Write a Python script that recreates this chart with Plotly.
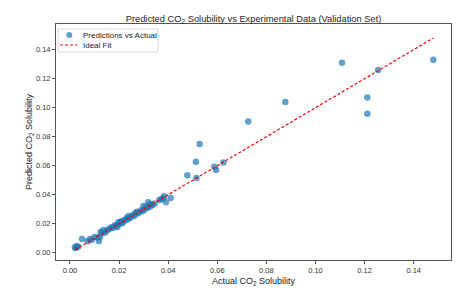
import plotly.graph_objects as go

# Actual vs predicted CO2 solubility
actual = [0.0020, 0.0024, 0.0027, 0.0033, 0.0049, 0.0072, 0.0081, 0.0088, 0.0100, 0.0112,
          0.0118, 0.0122, 0.0125, 0.0130, 0.0136, 0.0142, 0.0148, 0.0155, 0.0163, 0.0170,
          0.0176, 0.0183, 0.0188, 0.0193, 0.0197, 0.0203, 0.0207, 0.0210, 0.0214, 0.0219,
          0.0224, 0.0230, 0.0234, 0.0238, 0.0242, 0.0247, 0.0255, 0.0262, 0.0265, 0.0272,
          0.0276, 0.0283, 0.0290, 0.0296, 0.0299, 0.0305, 0.0310, 0.0315, 0.0319, 0.0322,
          0.0326, 0.0330, 0.0336, 0.0345, 0.0364, 0.0372, 0.0380, 0.0383, 0.0391, 0.0410,
          0.0478, 0.0513, 0.0515, 0.0528, 0.0588, 0.0595, 0.0625, 0.0726, 0.0877, 0.1108,
          0.1211, 0.1211, 0.1255, 0.1480]
predicted = [0.0037, 0.0032, 0.0046, 0.0041, 0.0094, 0.0080, 0.0094, 0.0088, 0.0108, 0.0105,
             0.0081, 0.0110, 0.0145, 0.0135, 0.0157, 0.0140, 0.0150, 0.0160, 0.0168, 0.0175,
             0.0172, 0.0190, 0.0185, 0.0178, 0.0210, 0.0200, 0.0215, 0.0214, 0.0205, 0.0220,
             0.0225, 0.0237, 0.0230, 0.0253, 0.0240, 0.0244, 0.0258, 0.0255, 0.0272, 0.0283,
             0.0270, 0.0280, 0.0293, 0.0288, 0.0322, 0.0300, 0.0315, 0.0310, 0.0348, 0.0325,
             0.0317, 0.0335, 0.0330, 0.0340, 0.0363, 0.0368, 0.0375, 0.0390, 0.0348, 0.0377,
             0.0534, 0.0628, 0.0515, 0.0750, 0.0593, 0.0570, 0.0623, 0.0904, 0.1040, 0.1310,
             0.1070, 0.0959, 0.1260, 0.1330]

tick_vals = [0.00, 0.02, 0.04, 0.06, 0.08, 0.10, 0.12, 0.14]
series_names = ["Predictions vs Actual", "Ideal Fit"]

line_x = [min(actual), max(actual)]
line_y = [min(actual), max(actual)]

font_family = "Liberation Sans, Arial, sans-serif"
point_color = "rgba(31,119,180,0.7)"

# plot-area geometry (px) used to place the compact legend
W, H = 472, 294
L, R, T, B = 56, 21, 24, 34
pw, ph = W - L - R, H - T - B


def px_x(p):
    return (p - L) / pw


def px_y(p):
    return (H - B - p) / ph


fig = go.Figure()
fig.add_trace(go.Scatter(
    x=actual, y=predicted, mode="markers", name=series_names[0], showlegend=False,
    marker=dict(color=point_color, size=6.5, line=dict(width=0)),
))
fig.add_trace(go.Scatter(
    x=line_x, y=line_y, mode="lines", name=series_names[1], showlegend=False,
    line=dict(color="red", width=1.2, dash="3px,2px"),
))

axis_common = dict(
    showline=True, linecolor="#555555", linewidth=1, mirror=True,
    ticks="outside", ticklen=3, tickcolor="#555555", tickwidth=0.8,
    showgrid=False, zeroline=False, automargin=False,
    tickfont=dict(size=7.5, color="#333333", family=font_family),
)

# compact matplotlib-style legend
shapes = [
    dict(type="rect", xref="paper", yref="paper",
         x0=px_x(58), x1=px_x(158), y0=px_y(52), y1=px_y(29),
         line=dict(color="#d0d0d0", width=0.8), fillcolor="rgba(255,255,255,0.8)", layer="above"),
    dict(type="circle", xref="paper", yref="paper",
         x0=px_x(66.3), x1=px_x(72.3), y0=px_y(38), y1=px_y(32),
         line=dict(width=0), fillcolor=point_color, layer="above"),
    dict(type="line", xref="paper", yref="paper",
         x0=px_x(60), x1=px_x(77), y0=px_y(45), y1=px_y(45),
         line=dict(color="red", width=1.2, dash="3px,2px"), layer="above"),
]
annotations = [
    dict(text=series_names[0], xref="paper", yref="paper", x=px_x(81), y=px_y(35),
         xanchor="left", yanchor="middle", showarrow=False,
         font=dict(size=8, color="#222222", family=font_family)),
    dict(text=series_names[1], xref="paper", yref="paper", x=px_x(81), y=px_y(45),
         xanchor="left", yanchor="middle", showarrow=False,
         font=dict(size=8, color="#222222", family=font_family)),
]

fig.update_layout(
    width=W, height=H,
    margin=dict(l=L, r=R, t=T, b=B),
    paper_bgcolor="white", plot_bgcolor="white",
    title=dict(text="Predicted CO<sub>2</sub> Solubility vs Experimental Data (Validation Set)",
               x=(L + W - R) / 2 / W, xanchor="center", y=1 - 18.5 / H, yanchor="middle",
               font=dict(size=9.3, color="#222222", family=font_family)),
    xaxis=dict(range=[-0.0057, 0.1552], tickvals=tick_vals, tickformat=".2f",
               title=dict(text="Actual CO<sub>2</sub> Solubility", standoff=3,
                          font=dict(size=9, color="#222222", family=font_family)),
               **axis_common),
    yaxis=dict(range=[-0.005, 0.1577], tickvals=tick_vals, tickformat=".2f",
               title=dict(text="Predicted CO<sub>2</sub> Solubility", standoff=1,
                          font=dict(size=9, color="#222222", family=font_family)),
               **axis_common),
    shapes=shapes,
    annotations=annotations,
    showlegend=False,
)

fig.write_html(
    "out.html",
    config={"displayModeBar": False},
    post_script="document.body.style.margin='0';document.body.style.overflow='hidden';",
)
